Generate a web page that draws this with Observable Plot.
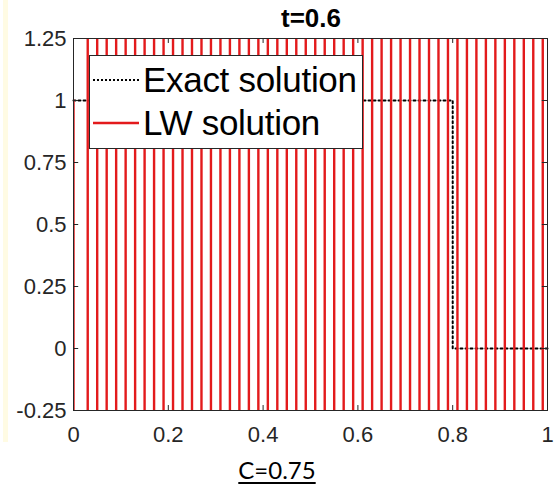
<!DOCTYPE html>
<html><head><meta charset="utf-8">
<script src="https://cdn.jsdelivr.net/npm/d3@7"></script>
<script src="https://cdn.jsdelivr.net/npm/@observablehq/plot@0.6"></script>
<style>
body{margin:0;background:#fff;}
#wrap{position:relative;width:554px;height:488px;overflow:hidden;font-family:"Liberation Sans",Arial,sans-serif;background:#fff;}
#strip{position:absolute;left:3px;top:0;width:5px;height:442px;background:#fffbe3;}
#chart{position:absolute;left:0;top:0;}
#title{position:absolute;left:161px;width:300px;top:3px;text-align:center;font-family:"Liberation Sans",Arial,sans-serif;font-weight:700;font-size:26px;line-height:30px;color:#000;}
#legend{position:absolute;left:89px;top:55px;width:274px;height:94px;background:#fff;border:1px solid #262626;box-sizing:border-box;}
.row{position:absolute;left:3px;height:40px;display:flex;align-items:center;}
.row span{font-size:35px;color:#000;margin-left:4px;white-space:nowrap;letter-spacing:-0.3px;}
#caption{position:absolute;left:0;width:554px;top:455px;text-align:center;font-family:Lato,"Open Sans",sans-serif;font-size:24px;color:#000;}
#caption span{text-decoration:underline;text-underline-offset:3px;}
</style></head>
<body>
<div id="wrap">
  <div id="strip"></div>
  <div id="chart"></div>
  <div id="title"></div>
  <div id="legend">
    <div class="row" style="top:4px"><svg width="46" height="10"><line x1="0" y1="5" x2="46" y2="5" stroke="#000" stroke-width="2" stroke-dasharray="2,2"/></svg><span>Exact solution</span></div>
    <div class="row" style="top:47px"><svg width="46" height="10"><line x1="0" y1="5" x2="46" y2="5" stroke="#e31a1c" stroke-width="2.5"/></svg><span>LW solution</span></div>
  </div>
  <div id="caption"><span>C=0.75</span></div>
</div>
<script>
const titleText = "t=0.6";
const xTicks = [0, 0.2, 0.4, 0.6, 0.8, 1];
const yTicks = [-0.25, 0, 0.25, 0.5, 0.75, 1, 1.25];
// exact solution (step)
const exactX = [0, 0.8, 0.8, 1];
const exactU = [1, 1, 0, 0];
// LW solution: grid points dx=0.02, values blown up far outside the axis range
const lwX = [0,0.02,0.04,0.06,0.08,0.1,0.12,0.14,0.16,0.18,0.2,0.22,0.24,0.26,0.28,0.3,0.32,0.34,0.36,0.38,0.4,0.42,0.44,0.46,0.48,0.5,0.52,0.54,0.56,0.58,0.6,0.62,0.64,0.66,0.68,0.7,0.72,0.74,0.76,0.78,0.8,0.82,0.84,0.86,0.88,0.9,0.92,0.94,0.96,0.98,1];
const lwU = [1,-1000,1000,-1000,1000,-1000,1000,-1000,1000,-1000,1000,-1000,1000,-1000,1000,-1000,1000,-1000,1000,-1000,1000,-1000,1000,-1000,1000,-1000,1000,-1000,1000,-1000,1000,-1000,1000,-1000,1000,-1000,1000,-1000,1000,-1000,1000,-1000,1000,-1000,1000,-1000,1000,-1000,1000,-1000,1000];

document.getElementById("title").textContent = titleText;
const exact = exactX.map((x, i) => ({x, u: exactU[i]}));
const lw = lwX.map((x, i) => ({x, u: lwU[i]}));
const axisColor = "#262626";

const chart = Plot.plot({
  width: 554, height: 450,
  marginLeft: 73, marginRight: 7, marginTop: 38, marginBottom: 40,
  style: {fontFamily: '"Liberation Sans", Arial, sans-serif', fontSize: "22px", color: axisColor, background: "transparent"},
  x: {domain: [0, 1], label: null},
  y: {domain: [-0.25, 1.25], label: null},
  marks: [
    Plot.line(exact, {x: "x", y: "u", stroke: "#000", strokeWidth: 2, strokeDasharray: "2,3"}),
    Plot.line(lw, {x: "x", y: "u", stroke: "#e31a1c", strokeWidth: 2.4, clip: true}),
    Plot.frame({stroke: axisColor}),
    Plot.ruleX(xTicks, {x: d => d, y1: -0.25, y2: -0.25 + 0.02, stroke: axisColor}),
    Plot.ruleX(xTicks, {x: d => d, y1: 1.25, y2: 1.25 - 0.02, stroke: axisColor}),
    Plot.ruleY(yTicks, {y: d => d, x1: 0, x2: 0.011, stroke: axisColor}),
    Plot.ruleY(yTicks, {y: d => d, x1: 1, x2: 1 - 0.011, stroke: axisColor}),
    Plot.axisX(xTicks, {tickSize: 0, tickPadding: 16, tickFormat: d => String(d), fontSize: 22}),
    Plot.axisY(yTicks, {tickSize: 0, tickPadding: 7, tickFormat: d => String(d), fontSize: 22})
  ]
});
document.getElementById("chart").appendChild(chart);
</script>
</body></html>
